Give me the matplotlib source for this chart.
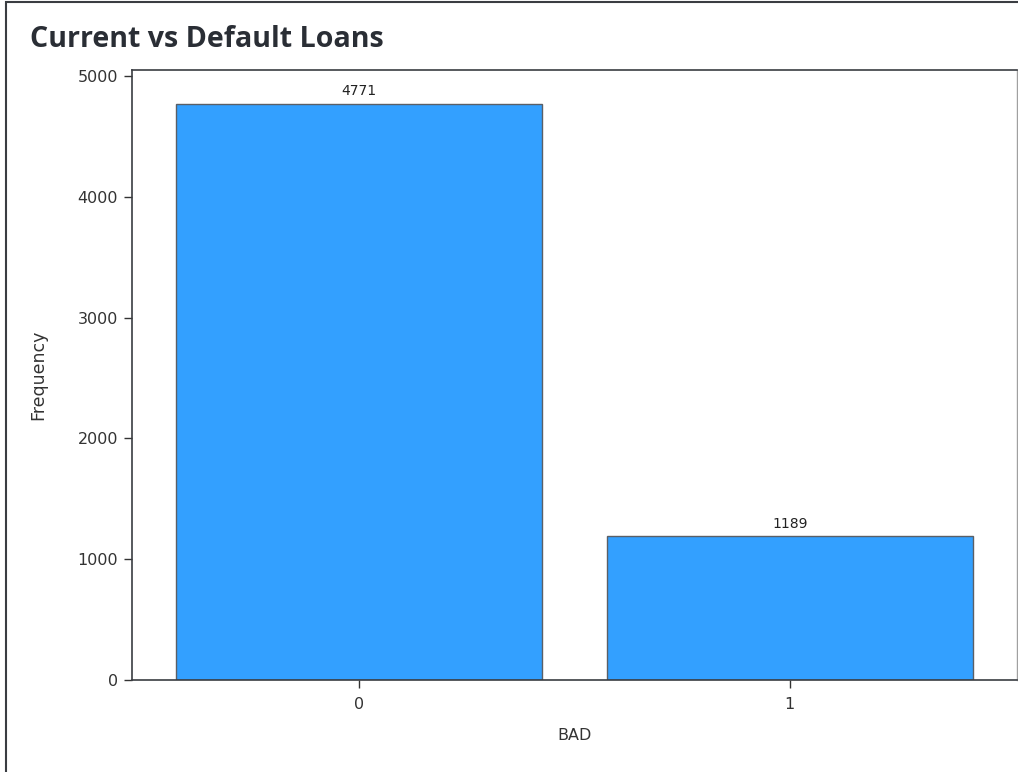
import matplotlib
matplotlib.use("Agg")
import matplotlib.pyplot as plt
from matplotlib.patches import Rectangle

categories = ["0", "1"]
frequencies = [4771, 1189]
yticks = [0, 1000, 2000, 3000, 4000, 5000]

W, H = 1018, 772
fig = plt.figure(figsize=(W / 100, H / 100), dpi=100)
fig.patch.set_facecolor("white")

# outer frame
fig.patches.append(Rectangle((6 / W, -0.1), 1.2, 1 - 1.5 / H + 0.1,
                             transform=fig.transFigure, fill=False,
                             edgecolor="#3a3d42", linewidth=1.5))

left, right, top, bottom = 132, 1017, 70, 680
ax = fig.add_axes([left / W, 1 - bottom / H, (right - left) / W, (bottom - top) / H])

x = list(range(len(categories)))
bars = ax.bar(x, frequencies, width=0.85, color="#33a0ff",
              edgecolor="#5a5f66", linewidth=1.0, zorder=2)
for xi, v in zip(x, frequencies):
    ax.annotate(str(v), (xi, v), xytext=(0, 4), textcoords="offset points",
                ha="center", va="bottom", fontsize=10, color="#222222")

ax.set_xlim(-0.528, 1.528)
ax.set_ylim(0, 5050)
ax.set_xticks(x)
ax.set_xticklabels(categories)
ax.set_yticks(yticks)
ax.tick_params(axis="both", labelsize=11.5, colors="#333333",
               length=6, width=1, labelcolor="#333333")
ax.tick_params(axis="x", pad=6)
ax.tick_params(axis="y", pad=4)
ax.set_xlabel("BAD", fontsize=11.5, color="#333333", labelpad=12)
ax.set_ylabel("Frequency", fontsize=12.5, color="#333333", labelpad=22)

for s in ["left", "bottom", "top"]:
    ax.spines[s].set_color("#3a3d42")
    ax.spines[s].set_linewidth(1.2)
ax.spines["right"].set_color("#a0a0a0")
ax.spines["right"].set_linewidth(1.0)

fig.text(30 / W, 1 - 47 / H, "Current vs Default Loans", fontsize=20.6,
         family="Open Sans", fontweight="bold", color="#2a2e35",
         ha="left", va="baseline")

fig.savefig("out.png", dpi=100)
